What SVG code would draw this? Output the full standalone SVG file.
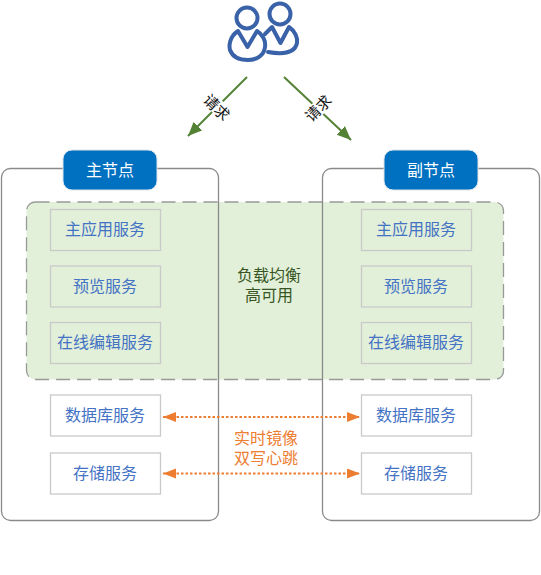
<svg xmlns="http://www.w3.org/2000/svg" width="541" height="575" viewBox="0 0 541 575">
<style>
text{font-family:"Liberation Sans","Noto Sans CJK SC",sans-serif;text-anchor:middle}
.panel{fill:none;stroke:#8a8a8a;stroke-width:1.3}
.head{fill:#0070c0;stroke:#dbe3ec;stroke-width:1}
.headt{fill:#fff;font-size:16px}
.box{stroke:#c9c9c9;stroke-width:1.3}
.g{fill:#e2f0d9}
.w{fill:#fff}
.st{fill:#4472c4;font-size:16px}
.ico{fill:none;stroke:#3a62a8;stroke-width:4;stroke-linecap:round;stroke-linejoin:round}
.req{stroke:#548235;stroke-width:2;fill:none;marker-end:url(#ga)}
.sync{stroke:#ed7d31;stroke-width:2;stroke-dasharray:2.5 2;fill:none;marker-start:url(#oa);marker-end:url(#oa)}
</style>
<defs>
<marker id="ga" markerUnits="userSpaceOnUse" markerWidth="16" markerHeight="14" refX="14" refY="6" orient="auto"><path d="M0 0L14 6L0 12Z" fill="#548235"/></marker>
<marker id="oa" markerUnits="userSpaceOnUse" markerWidth="14" markerHeight="12" refX="13" refY="5" orient="auto-start-reverse"><path d="M0 0L13 5L0 10Z" fill="#ed7d31"/></marker>
</defs>
<rect id="zone" x="26.500" y="202" width="477" height="177.500" rx="9" fill="#e2f0d9" stroke="#999" stroke-width="1.300" stroke-dasharray="14 7"/>
<g id="main-panel"><rect class="panel" x="1.500" y="168.500" width="217" height="352" rx="9"/></g>
<g id="backup-panel"><rect class="panel" x="322.500" y="168.500" width="217" height="352" rx="9"/></g>
<g id="users">
<circle class="ico" cx="247" cy="18" r="10.500"/>
<path class="ico" d="M238 31C229 37 229 46 230 50C233 58 241 60 248 60C256 60 264 56 265 47C266 40 262 34 257 31L247.500 47Z"/>
<circle class="ico" cx="280" cy="14" r="10.500"/>
<path class="ico" d="M265 34L272 27L280.500 43L289 27C295 31 298 38 297 43C295 52 285 55 268 52"/>
</g>
<g id="connectors">
<path class="req" d="M247 77L188 136"/>
<path class="req" d="M284 77L351 140"/>
<path class="sync" d="M163 417L360 417"/>
<path class="sync" d="M163 473.500L360 473.500"/>
</g>
<g id="label-req-1"><rect x="205" y="99" width="24" height="15" fill="#fff" transform="rotate(45 217 107)"/><text x="217" y="113" font-size="15" fill="#111" transform="rotate(45 217 107)">请求</text></g>
<g id="label-req-2"><rect x="306" y="101" width="24" height="15" fill="#fff" transform="rotate(-45 318 108)"/><text x="318" y="114" font-size="15" fill="#111" transform="rotate(-45 318 108)">请求</text></g>
<g id="main-head"><rect class="head" x="63" y="150" width="94" height="40" rx="9"/><text class="headt" x="110" y="176">主节点</text></g>
<g id="backup-head"><rect class="head" x="384" y="150" width="94" height="40" rx="9"/><text class="headt" x="431" y="176">副节点</text></g>
<g id="m1"><rect class="box g" x="50.500" y="209.500" width="110" height="41"/><text class="st" x="105" y="235">主应用服务</text></g>
<g id="m2"><rect class="box g" x="50.500" y="266" width="110" height="41"/><text class="st" x="105" y="292">预览服务</text></g>
<g id="m3"><rect class="box g" x="50.500" y="322.500" width="110" height="41"/><text class="st" x="105" y="348">在线编辑服务</text></g>
<g id="m4"><rect class="box w" x="50.500" y="395" width="110" height="41"/><text class="st" x="105" y="421">数据库服务</text></g>
<g id="m5"><rect class="box w" x="50.500" y="453" width="110" height="41"/><text class="st" x="105" y="479">存储服务</text></g>
<g id="b1"><rect class="box g" x="361.500" y="209.500" width="110" height="41"/><text class="st" x="416" y="235">主应用服务</text></g>
<g id="b2"><rect class="box g" x="361.500" y="266" width="110" height="41"/><text class="st" x="416" y="292">预览服务</text></g>
<g id="b3"><rect class="box g" x="361.500" y="322.500" width="110" height="41"/><text class="st" x="416" y="348">在线编辑服务</text></g>
<g id="b4"><rect class="box w" x="361.500" y="395" width="110" height="41"/><text class="st" x="416" y="421">数据库服务</text></g>
<g id="b5"><rect class="box w" x="361.500" y="453" width="110" height="41"/><text class="st" x="416" y="479">存储服务</text></g>
<g id="lb" font-size="16" fill="#375623"><text x="269" y="281">负载均衡</text><text x="269" y="301">高可用</text></g>
<g id="sync-label" font-size="16" fill="#ed7d31"><text x="266" y="444">实时镜像</text><text x="266" y="464">双写心跳</text></g>
</svg>
